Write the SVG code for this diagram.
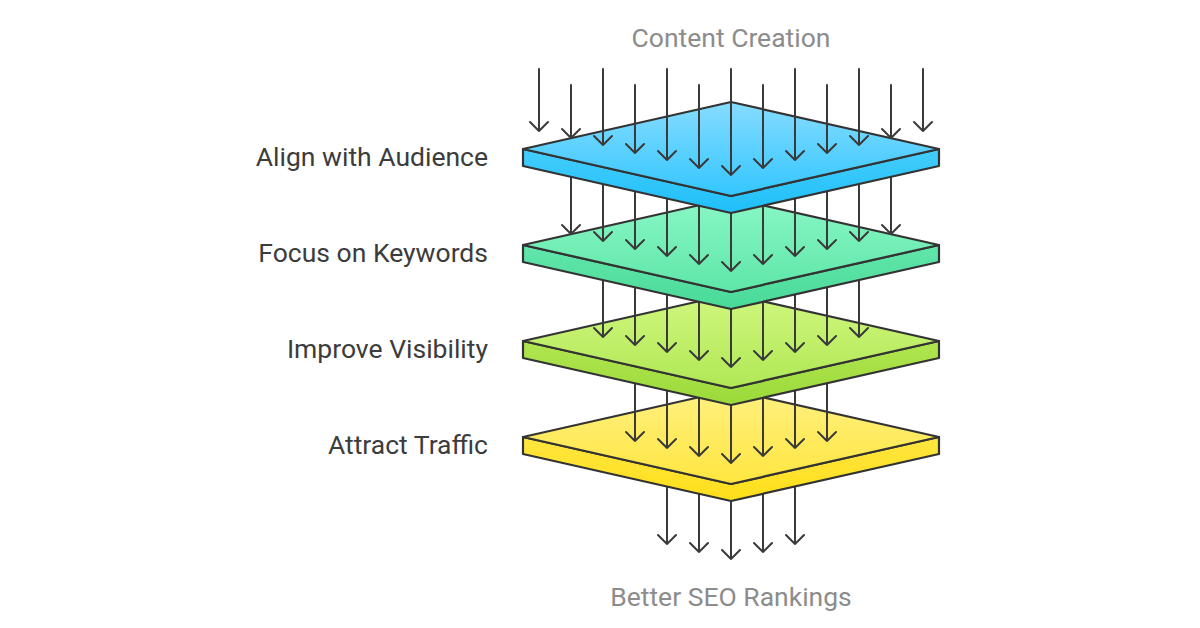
<svg xmlns="http://www.w3.org/2000/svg" width="1200" height="628" viewBox="0 0 1200 628">
<defs>
<linearGradient id="gBlueTop" x1="0" y1="0" x2="0" y2="1"><stop offset="0" stop-color="#86dcff"/><stop offset="1" stop-color="#33c6ff"/></linearGradient>
<linearGradient id="gBlueSide" x1="0" y1="0" x2="0" y2="1"><stop offset="0" stop-color="#44cdfc"/><stop offset="1" stop-color="#1fbff9"/></linearGradient>
<linearGradient id="gGreenTop" x1="0" y1="0" x2="0" y2="1"><stop offset="0" stop-color="#8af7c6"/><stop offset="1" stop-color="#5ee6a8"/></linearGradient>
<linearGradient id="gGreenSide" x1="0" y1="0" x2="0" y2="1"><stop offset="0" stop-color="#62e6ab"/><stop offset="1" stop-color="#48da98"/></linearGradient>
<linearGradient id="gLimeTop" x1="0" y1="0" x2="0" y2="1"><stop offset="0" stop-color="#d0f77f"/><stop offset="1" stop-color="#b0e855"/></linearGradient>
<linearGradient id="gLimeSide" x1="0" y1="0" x2="0" y2="1"><stop offset="0" stop-color="#b0e64f"/><stop offset="1" stop-color="#9bd93a"/></linearGradient>
<linearGradient id="gYellowTop" x1="0" y1="0" x2="0" y2="1"><stop offset="0" stop-color="#fff080"/><stop offset="1" stop-color="#ffe640"/></linearGradient>
<linearGradient id="gYellowSide" x1="0" y1="0" x2="0" y2="1"><stop offset="0" stop-color="#ffe640"/><stop offset="1" stop-color="#ffdf1a"/></linearGradient>
</defs>
<style>
.lbl{font-family:Roboto,"Liberation Sans",sans-serif;font-size:26.5px;fill:#3c3c3c;}
.ttl{font-family:Roboto,"Liberation Sans",sans-serif;font-size:26.5px;fill:#8c8c8c;}
.edge{stroke:#333;stroke-width:2.2;stroke-linejoin:round;}
.arr{fill:none;stroke:#3a3a3a;stroke-width:2;stroke-linecap:round;stroke-linejoin:round;}
</style>
<rect width="1200" height="628" fill="#fff"/>

<text class="ttl" x="731" y="47" text-anchor="middle">Content Creation</text>
<text class="ttl" x="731" y="606" text-anchor="middle">Better SEO Rankings</text>

<g id="connectors-out">
<path class="arr" d="M667 470V544M658 535L667 544L676 535"/>
<path class="arr" d="M699 470V552M690 543L699 552L708 543"/>
<path class="arr" d="M731 470V559M722 550L731 559L740 550"/>
<path class="arr" d="M763 470V552M754 543L763 552L772 543"/>
<path class="arr" d="M795 470V544M786 535L795 544L804 535"/>
</g>

<g id="layer4">
<path class="edge" d="M523 437V454L731 501L939 454V437L731 484Z" fill="url(#gYellowSide)"/>
<path class="edge" d="M523 437L731 390L939 437L731 484Z" fill="url(#gYellowTop)"/>
<text class="lbl" x="488" y="454" text-anchor="end">Attract Traffic</text>
</g>
<g id="connectors-4">
<path class="arr" d="M635 370V441M626 432L635 441L644 432"/>
<path class="arr" d="M667 370V448M658 439L667 448L676 439"/>
<path class="arr" d="M699 370V456M690 447L699 456L708 447"/>
<path class="arr" d="M731 370V463M722 454L731 463L740 454"/>
<path class="arr" d="M763 370V456M754 447L763 456L772 447"/>
<path class="arr" d="M795 370V448M786 439L795 448L804 439"/>
<path class="arr" d="M827 370V441M818 432L827 441L836 432"/>
</g>

<g id="layer3">
<path class="edge" d="M523 341V358L731 405L939 358V341L731 388Z" fill="url(#gLimeSide)"/>
<path class="edge" d="M523 341L731 294L939 341L731 388Z" fill="url(#gLimeTop)"/>
<text class="lbl" x="488" y="358" text-anchor="end">Improve Visibility</text>
</g>
<g id="connectors-3">
<path class="arr" d="M603 275V337M594 328L603 337L612 328"/>
<path class="arr" d="M635 275V345M626 336L635 345L644 336"/>
<path class="arr" d="M667 275V352M658 343L667 352L676 343"/>
<path class="arr" d="M699 275V360M690 351L699 360L708 351"/>
<path class="arr" d="M731 275V367M722 358L731 367L740 358"/>
<path class="arr" d="M763 275V360M754 351L763 360L772 351"/>
<path class="arr" d="M795 275V352M786 343L795 352L804 343"/>
<path class="arr" d="M827 275V345M818 336L827 345L836 336"/>
<path class="arr" d="M859 275V337M850 328L859 337L868 328"/>
</g>

<g id="layer2">
<path class="edge" d="M523 245V262L731 309L939 262V245L731 292Z" fill="url(#gGreenSide)"/>
<path class="edge" d="M523 245L731 198L939 245L731 292Z" fill="url(#gGreenTop)"/>
<text class="lbl" x="488" y="262" text-anchor="end">Focus on Keywords</text>
</g>
<g id="connectors-2">
<path class="arr" d="M571 170V234M562 225L571 234L580 225"/>
<path class="arr" d="M603 170V241M594 232L603 241L612 232"/>
<path class="arr" d="M635 170V249M626 240L635 249L644 240"/>
<path class="arr" d="M667 170V256M658 247L667 256L676 247"/>
<path class="arr" d="M699 170V264M690 255L699 264L708 255"/>
<path class="arr" d="M731 170V271M722 262L731 271L740 262"/>
<path class="arr" d="M763 170V264M754 255L763 264L772 255"/>
<path class="arr" d="M795 170V256M786 247L795 256L804 247"/>
<path class="arr" d="M827 170V249M818 240L827 249L836 240"/>
<path class="arr" d="M859 170V241M850 232L859 241L868 232"/>
<path class="arr" d="M891 170V234M882 225L891 234L900 225"/>
</g>

<g id="layer1">
<path class="edge" d="M523 149V166L731 213L939 166V149L731 196Z" fill="url(#gBlueSide)"/>
<path class="edge" d="M523 149L731 102L939 149L731 196Z" fill="url(#gBlueTop)"/>
<text class="lbl" x="488" y="166" text-anchor="end">Align with Audience</text>
</g>
<g id="connectors-1">
<path class="arr" d="M539 69V131M530 122L539 131L548 122"/>
<path class="arr" d="M571 85V138M562 129L571 138L580 129"/>
<path class="arr" d="M603 69V145M594 136L603 145L612 136"/>
<path class="arr" d="M635 85V153M626 144L635 153L644 144"/>
<path class="arr" d="M667 69V160M658 151L667 160L676 151"/>
<path class="arr" d="M699 85V168M690 159L699 168L708 159"/>
<path class="arr" d="M731 69V175M722 166L731 175L740 166"/>
<path class="arr" d="M763 85V168M754 159L763 168L772 159"/>
<path class="arr" d="M795 69V160M786 151L795 160L804 151"/>
<path class="arr" d="M827 85V153M818 144L827 153L836 144"/>
<path class="arr" d="M859 69V145M850 136L859 145L868 136"/>
<path class="arr" d="M891 85V138M882 129L891 138L900 129"/>
<path class="arr" d="M923 69V131M914 122L923 131L932 122"/>
</g>
</svg>
